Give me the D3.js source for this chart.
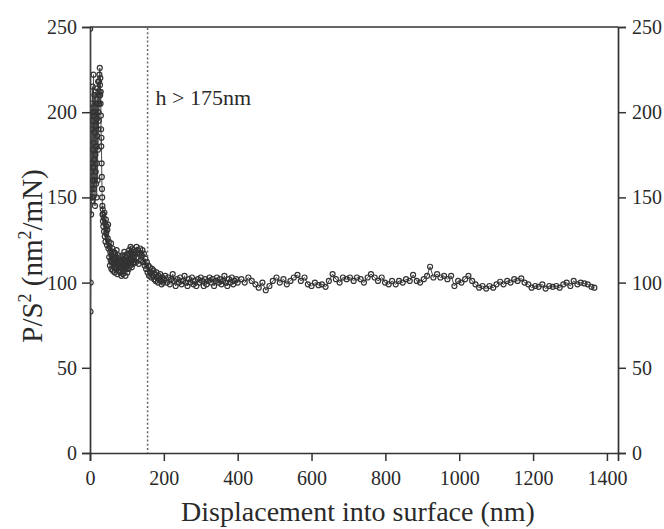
<!DOCTYPE html>
<html>
<head>
<meta charset="utf-8">
<script src="https://cdn.jsdelivr.net/npm/d3@7"></script>
<style>
  body { margin: 0; background: #fff; }
  text { font-family: "Liberation Serif", "Times New Roman", serif; fill: #2a2a2a; }
</style>
</head>
<body>
<div class="D3"></div>
<script>
//measured data, split in parts: loading spike, transition, near plateau, far plateau
var spikeDepth = [0.5, 1, 1.5, 2, 2.5, 3, 3.5, 4, 4.5, 5, 5.5, 6, 6.5, 7, 7.5, 8, 8.5, 9, 9.5, 10,
  10.5, 11, 11.5, 12, 12.5, 13, 13.5, 14, 14.5, 15, 15.5, 16, 16.5, 17, 17.5, 18, 18.5, 19, 19.5, 20,
  20.5, 21, 21.5, 22, 22.5, 23, 23.5, 24, 24.5, 25, 25.5, 26, 26.5, 27, 27.5, 28, 28.5, 29, 29.5, 30,
  30.5, 31, 31.5, 32, 32.5, 33, 33.5, 34, 34.5, 35, 35.5, 36];
var spikeValue = [249, 150, 83, 100, 165, 140, 190, 155, 205, 170,
  148, 195, 160, 215, 178, 150, 200, 168, 222, 182,
  155, 198, 172, 210, 160, 188, 145, 200, 175, 212,
  165, 192, 158, 205, 180, 150, 196, 170, 214, 186,
  160, 205, 178, 218, 190, 200, 210, 195, 218, 205,
  222, 212, 226, 216, 210, 220, 205, 212, 198, 190,
  180, 185, 170, 162, 155, 150, 145, 140, 143, 136,
  140, 133];

var transitionDepth = [37, 38, 39, 40, 41, 42, 43, 44, 45, 46, 47, 48, 49, 50,
  51, 52, 53, 54, 55, 56, 57, 58, 59, 60, 61, 62, 63, 64, 65, 66, 67, 68, 69, 70,
  71, 72, 73, 74, 75, 76, 77, 78, 79, 80,
  81, 82, 83, 84, 85, 86, 87, 88, 89, 90, 91, 92, 93, 94, 95, 96, 97, 98, 99, 100,
  101, 102, 103, 104, 105, 106, 107, 108, 109, 110, 111, 112, 113, 114, 115, 116, 117, 118, 119, 120,
  122, 124, 126, 128, 130, 132, 134, 136, 138, 140, 142, 144, 146, 148, 150, 152, 154, 156, 158, 160,
  162, 164, 166, 168, 170, 172, 174, 176, 178, 180, 182, 184, 186, 188, 190, 192, 194, 196, 198, 200];
var transitionValue = [138, 130, 141, 127, 135, 124, 137, 129, 133, 122, 131, 126, 134, 120,
  124, 115, 121, 110, 118, 113, 123, 108, 116, 112, 120, 107, 114, 118, 109, 113, 106, 117, 111, 115,
  108, 119, 112, 105, 114, 110, 116, 107, 112, 109,
  113, 106, 115, 110, 104, 112, 108, 116, 105, 111, 114, 107, 118, 109, 113, 104, 110, 115, 108, 112,
  106, 117, 111, 114, 108, 119, 112, 116, 110, 121, 114, 118, 109, 120, 113, 117, 111, 119, 115, 112,
  118, 112, 121, 115, 119, 111, 117, 120, 113, 116, 119, 112, 117, 110, 114, 108, 112, 106, 110, 104,
  109, 106, 103, 108, 104, 107, 102, 105, 101, 106, 103, 100, 104, 102, 105, 101, 99, 103, 100, 102];

var nearDepth = [204, 208, 212, 216, 220, 224, 228, 232, 236, 240, 244, 248, 252, 256, 260, 264, 268, 272, 276, 280,
  284, 288, 292, 296, 300, 304, 308, 312, 316, 320, 324, 328, 332, 336, 340, 344, 348, 352, 356, 360,
  364, 368, 372, 376, 380, 384, 388, 392, 396, 400];
var nearValue = [104, 100, 103, 99, 102, 105, 101, 98, 102, 100, 103, 99, 101, 104, 100, 98, 102, 100, 103, 99,
  101, 98, 102, 100, 103, 101, 98, 102, 99, 101, 103, 100, 102, 98, 101, 103, 100, 102, 99, 101,
  104, 100, 98, 102, 100, 103, 99, 101, 102, 100];

var farDepth = [410, 419, 429, 438, 448, 457, 467, 476, 486, 495, 505, 514, 524, 533, 543, 552, 562, 571, 581, 590,
  600, 609, 619, 628, 638, 647, 657, 666, 676, 685, 695, 704, 714, 723, 733, 742, 752, 761, 771, 780,
  790, 799, 809, 818, 828, 837, 847, 856, 866, 875, 885, 894, 904, 913, 921, 930, 940, 949, 959, 968,
  978, 987, 997, 1006, 1016, 1025, 1035, 1044, 1054, 1063, 1073, 1082, 1092, 1101, 1111, 1120, 1130, 1139, 1149, 1158,
  1168, 1177, 1187, 1196, 1206, 1215, 1225, 1234, 1244, 1253, 1263, 1272, 1282, 1291, 1301, 1310, 1320, 1329, 1339, 1348,
  1358, 1366];
var farValue = [102, 100, 103, 101, 99, 97, 100, 95.5, 98, 101, 103, 100, 102, 99, 101, 103, 104.5, 101, 103, 99,
  98, 100, 98.5, 99, 97.5, 101, 105, 102, 100, 103, 102, 103, 101, 103, 102, 100, 103, 105, 103, 101,
  103, 100, 99, 101, 99, 101, 100, 102, 101, 104.5, 101, 100, 102, 104, 109.3, 103, 105, 103, 104, 102,
  104, 98, 101, 100, 102, 104, 101, 99, 97, 98, 96.5, 98, 97, 99, 100.5, 99, 101, 100, 102, 101,
  102.5, 100, 99, 97, 98, 97.5, 99, 96.5, 98, 97.5, 98, 97, 99, 100, 98, 101, 99, 100, 99.5, 99,
  97.5, 97];

//axis ticks and annotation
var xTicks = [0, 200, 400, 600, 800, 1000, 1200, 1400];
var xMinorTicks = [100, 300, 500, 700, 900, 1100, 1300];
var yTicks = [0, 50, 100, 150, 200, 250];
var yMinorTicks = [25, 75, 125, 175, 225];
var cutoffDepth = 156;
var cutoffLabel = "h > 175nm";

//set svg and chart dimensions and margins
var svgWidth = 664;
var svgHeight = 529;

var margin = {
  top: 27,
  right: 46,
  bottom: 76,
  left: 90
};

var chartWidth = svgWidth - margin.left - margin.right;
var chartHeight = svgHeight - margin.top - margin.bottom;

var svg = d3
  .select(".D3")
  .append("svg")
  .attr("width", svgWidth)
  .attr("height", svgHeight);

var chartGroup = svg.append("g")
  .attr("transform", `translate(${margin.left}, ${margin.top})`);

//join the parts into one series
var points = [];
[[spikeDepth, spikeValue], [transitionDepth, transitionValue], [nearDepth, nearValue], [farDepth, farValue]]
  .forEach(function(part) {
    part[0].forEach(function(d, i) {
      points.push({ depth: d, ps: part[1][i] });
    });
  });

var xLinearScale = d3.scaleLinear()
  .domain([0, 1430])
  .range([0, chartWidth]);

var yLinearScale = d3.scaleLinear()
  .domain([0, 250])
  .range([chartHeight, 0]);

var axisColor = "#333";

//draw an axis with major and minor ticks
function drawAxis(axisFn, scale, major, minor, transform, padding) {
  var g = chartGroup.append("g")
    .attr("transform", transform);

  g.call(axisFn(scale).tickValues(minor).tickSize(4).tickFormat(""));
  g.call(axisFn(scale).tickValues(major).tickSize(8).tickPadding(padding)
    .tickFormat(d3.format("d")));

  g.selectAll("path.domain").attr("stroke", axisColor).attr("stroke-width", 1.7);
  g.selectAll("line").attr("stroke", axisColor).attr("stroke-width", 1.5);
  g.selectAll("text")
    .style("font-family", "'Liberation Serif', serif")
    .style("font-size", "20px")
    .attr("fill", "#2a2a2a");
  return g;
}

drawAxis(d3.axisBottom, xLinearScale, xTicks, xMinorTicks, `translate(0, ${chartHeight})`, 10);
drawAxis(d3.axisLeft, yLinearScale, yTicks, yMinorTicks, "translate(0, 0)", 5);
drawAxis(d3.axisRight, yLinearScale, yTicks, yMinorTicks, `translate(${chartWidth}, 0)`, 6);

//top frame line, no ticks
chartGroup.append("line")
  .attr("x1", 0)
  .attr("x2", chartWidth)
  .attr("y1", 0)
  .attr("y2", 0)
  .attr("stroke", axisColor)
  .attr("stroke-width", 1.7);

//dotted cutoff line
chartGroup.append("line")
  .attr("x1", xLinearScale(cutoffDepth))
  .attr("x2", xLinearScale(cutoffDepth))
  .attr("y1", 1)
  .attr("y2", chartHeight)
  .attr("stroke", "#666")
  .attr("stroke-width", 1.5)
  .attr("stroke-dasharray", "2,2.2");

chartGroup.append("text")
  .attr("x", xLinearScale(cutoffDepth) + 8)
  .attr("y", 78)
  .style("font-size", "22px")
  .text(cutoffLabel);

//data line and open circle markers
var line = d3.line()
  .x(d => xLinearScale(d.depth))
  .y(d => yLinearScale(d.ps));

svg.append("clipPath")
  .attr("id", "plotClip")
  .append("rect")
  .attr("width", chartWidth)
  .attr("height", chartHeight);

var dataGroup = chartGroup.append("g")
  .attr("clip-path", "url(#plotClip)");

dataGroup.append("path")
  .datum(points)
  .attr("fill", "none")
  .attr("stroke", "#4a4a4a")
  .attr("stroke-width", 1)
  .attr("d", line);

dataGroup.selectAll("circle")
  .data(points)
  .enter()
  .append("circle")
  .attr("cx", d => xLinearScale(d.depth))
  .attr("cy", d => yLinearScale(d.ps))
  .attr("r", 2.5)
  .attr("fill", "none")
  .attr("stroke", "#333")
  .attr("stroke-width", 1.2);

//axis titles
svg.append("text")
  .attr("x", 358)
  .attr("y", 521)
  .attr("text-anchor", "middle")
  .style("font-size", "28px")
  .text("Displacement into surface (nm)");

var yTitle = svg.append("text")
  .attr("transform", "translate(42, 256) rotate(-90)")
  .attr("text-anchor", "middle")
  .style("font-size", "29px");

yTitle.append("tspan").text("P/S");
yTitle.append("tspan").attr("dy", -11).style("font-size", "18px").text("2");
yTitle.append("tspan").attr("dy", 11).text(" (nm");
yTitle.append("tspan").attr("dy", -11).style("font-size", "18px").text("2");
yTitle.append("tspan").attr("dy", 11).text("/mN)");
</script>
</body>
</html>
